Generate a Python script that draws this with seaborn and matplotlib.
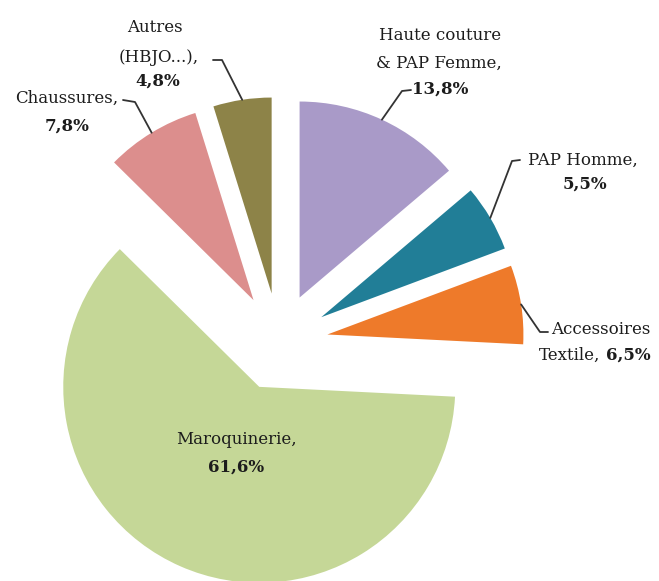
import numpy as np
import seaborn as sns
import matplotlib.pyplot as plt

# data (clockwise from 12 o'clock)
name_lines = [
    ["Haute couture", "& PAP Femme,"],
    ["PAP Homme,"],
    ["Accessoires", "Textile,"],
    ["Maroquinerie,"],
    ["Chaussures,"],
    ["Autres", "(HBJO...),"],
]
shares = [13.8, 5.5, 6.5, 61.6, 7.8, 4.8]
pct_labels = ["13,8%", "5,5%", "6,5%", "61,6%", "7,8%", "4,8%"]
colors = ["#A99AC8", "#217E97", "#EE7A2A", "#C5D797", "#DC8E8D", "#8D8348"]

sns.set_theme(style="white")
plt.rcParams["font.family"] = ["DejaVu Serif"]

# pixel layout helpers (pie centre and radius in pixels)
CX, CY, R = 279, 342, 196
W, H = 659, 581


def to_data(px, py):
    return (px - CX) / R, (CY - py) / R


# label layout: name line positions, percent position, leader start
name_pos = [
    [(440, 35, "center"), (439, 63, "center")],
    [(583, 160, "center")],
    [(601, 329, "center"), (600, 355, "right")],
    [(236, 440, "center")],
    [(67, 98, "center")],
    [(155, 28, "center"), (159, 57, "center")],
]
pct_pos = [(440, 89, "center"), (585, 184, "center"), (606, 355, "left"),
           (236, 467, "center"), (67, 126, "center"), (158, 81, "center")]
leader_start = [[(411, 90), (402, 91)], [(520, 160), (512, 161)],
                [(548, 332), (540, 332)], None,
                [(123, 100), (135, 102)], [(213, 60), (222, 60)]]

fig = plt.figure(figsize=(W / 100, H / 100), dpi=100)
ax = fig.add_axes([0, 0, 1, 1])

wedges, _ = ax.pie(
    shares,
    colors=colors,
    startangle=90,
    counterclock=False,
    explode=[0.25] * len(shares),
    radius=1,
    wedgeprops=dict(linewidth=0),
)

txt_color = "#1c1c1c"
fs = 12
for i, w in enumerate(wedges):
    for line, (px, py, ha) in zip(name_lines[i], name_pos[i]):
        x, y = to_data(px, py)
        ax.text(x, y, line, ha=ha, va="center", fontsize=fs, color=txt_color)
    px, py, ha = pct_pos[i]
    x, y = to_data(px, py)
    ax.text(x, y, pct_labels[i], ha=ha, va="center", fontsize=fs,
            fontweight="bold", color=txt_color)

    if leader_start[i] is not None:
        mid = np.deg2rad((w.theta1 + w.theta2) / 2)
        ex = w.center[0] + w.r * np.cos(mid)
        ey = w.center[1] + w.r * np.sin(mid)
        pts = [to_data(*p) for p in leader_start[i]] + [(ex, ey)]
        xs, ys = zip(*pts)
        ax.plot(xs, ys, color="#333333", lw=1.3)

ax.set_xlim(-CX / R, (W - CX) / R)
ax.set_ylim(-(H - CY) / R, CY / R)
ax.set_aspect("equal")
ax.axis("off")

fig.savefig("out.png", dpi=100)
